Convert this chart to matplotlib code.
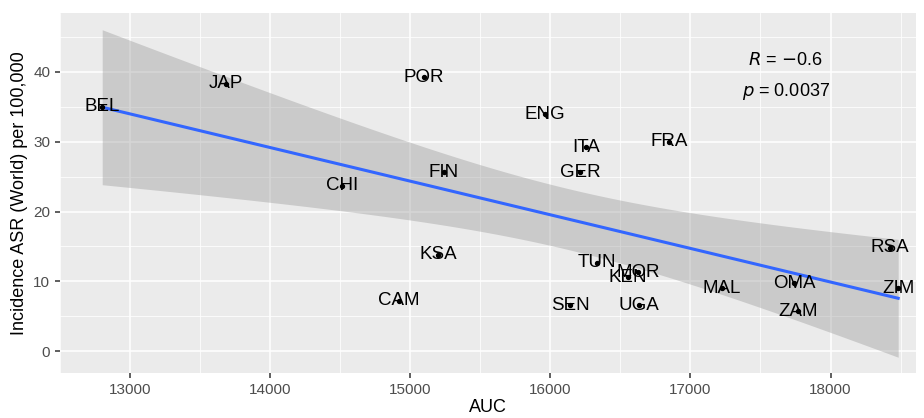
import numpy as np
import matplotlib.pyplot as plt

plt.rcParams["font.family"] = ["Liberation Sans", "DejaVu Sans"]

# ── Data ──────────────────────────────────────────────────────────────────────
countries = ["BEL", "JAP", "POR", "ENG", "ITA", "FRA", "GER", "FIN", "CHI", "KSA", "CAM",
             "TUN", "MOR", "KEN", "SEN", "UGA", "MAL", "OMA", "ZAM", "RSA", "ZIM"]
auc = [12801, 13683, 15095, 15963, 16258, 16846, 16212, 15240, 14514, 15197, 14917,
       16335, 16624, 16553, 16141, 16631, 17225, 17740, 17771, 18423, 18483]
incidence = [35.0, 38.3, 39.2, 33.9, 29.2, 30.0, 25.6, 25.6, 23.7, 13.8, 7.2,
             12.7, 11.3, 10.6, 6.6, 6.6, 9.0, 9.7, 5.7, 14.8, 9.0]

x = np.array(auc, dtype=float)
y = np.array(incidence, dtype=float)

# ── Linear fit with 95% confidence band (like geom_smooth(method="lm")) ──────
n = len(x)
slope, intercept = np.polyfit(x, y, 1)
resid = y - (slope * x + intercept)
s = np.sqrt(np.sum(resid ** 2) / (n - 2))
t_crit = 2.093  # t(0.975, df=19)
xs = np.linspace(x.min(), x.max(), 100)
fit = slope * xs + intercept
se = s * np.sqrt(1 / n + (xs - x.mean()) ** 2 / np.sum((x - x.mean()) ** 2))

fig = plt.figure(figsize=(9.24, 4.18), dpi=100)
ax = fig.add_axes([0.065, 0.108, 0.926, 0.862])
ax.set_facecolor("#EBEBEB")

ax.fill_between(xs, fit - t_crit * se, fit + t_crit * se, color="#999999", alpha=0.4,
                linewidth=0, zorder=2)
ax.plot(xs, fit, color="#3366FF", linewidth=2.2, zorder=3)

ax.scatter(x, y, s=8, color="black", zorder=4)
for name, xi, yi in zip(countries, x, y):
    ax.text(xi, yi, name, fontsize=13.5, ha="center", va="center", color="black", zorder=5)

ax.text(17680, 41.7, r"$R$ = $-$0.6", fontsize=13, ha="center", va="center")
ax.text(17680, 37.2, r"$p$ = 0.0037", fontsize=13, ha="center", va="center")

ax.set_xlim(12516, 18608)
ax.set_ylim(-3.1, 48.5)
ax.set_xticks([13000, 14000, 15000, 16000, 17000, 18000])
ax.set_yticks([0, 10, 20, 30, 40])
ax.set_xticks(np.arange(12500, 18600, 1000), minor=True)
ax.set_yticks([5, 15, 25, 35, 45], minor=True)
ax.grid(which="major", color="white", linewidth=1.1, zorder=0)
ax.grid(which="minor", color="white", linewidth=0.55, zorder=0)
ax.set_axisbelow(True)
for sp in ax.spines.values():
    sp.set_visible(False)
ax.tick_params(which="major", length=3.5, width=1.1, color="#333333", labelcolor="#4D4D4D",
               labelsize=11)
ax.tick_params(which="minor", length=0)

ax.set_xlabel("AUC", fontsize=13, labelpad=2)
ax.set_ylabel("Incidence ASR (World) per 100,000", fontsize=13, labelpad=4)

plt.savefig("out.png", dpi=100)
